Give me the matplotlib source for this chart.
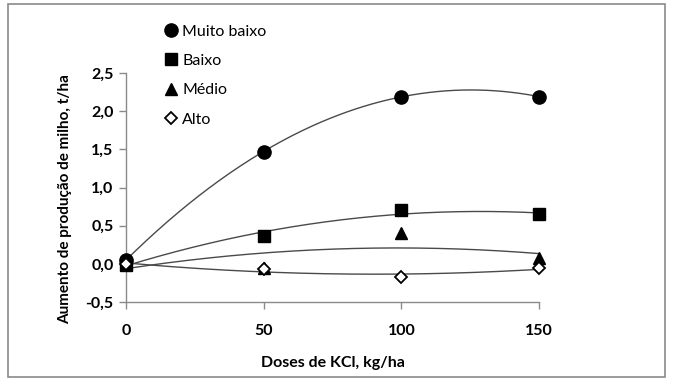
import numpy as np
import matplotlib
matplotlib.use("Agg")
import matplotlib.pyplot as plt
from matplotlib.patches import Rectangle
from matplotlib.lines import Line2D

plt.rcParams['font.family'] = ['Lato', 'DejaVu Sans']

# data
doses = [0, 50, 100, 150]
muito_baixo = [0.05, 1.47, 2.19, 2.19]
baixo = [-0.01, 0.37, 0.70, 0.65]
medio = [0.00, -0.05, 0.40, 0.07]
alto = [0.00, -0.07, -0.17, -0.06]

series_names = ["Muito baixo", "Baixo", "Médio", "Alto"]
y_ticks = [-0.5, 0.0, 0.5, 1.0, 1.5, 2.0, 2.5]
x_ticks = [0, 50, 100, 150]

W, H = 673, 382
fig = plt.figure(figsize=(W / 100, H / 100), dpi=100)

# outer frame
fig.patches.append(Rectangle((8 / W, 1 - 377 / H), 657 / W, 373 / H,
                             transform=fig.transFigure, fill=False,
                             edgecolor="#8a8a8a", lw=1.2))

ax = fig.add_axes([126 / W, 1 - 302 / H, (539 - 126) / W, (302 - 73) / H])

styles = [
    dict(marker="o", color="black", ms=9.5, mfc="black"),
    dict(marker="s", color="black", ms=9, mfc="black"),
    dict(marker="^", color="black", ms=8.5, mfc="black"),
    dict(marker="D", color="black", ms=6, mfc="white", mew=1.3),
]

xs = np.linspace(0, 150, 200)
for ys, st in zip([muito_baixo, baixo, medio, alto], styles):
    # Excel-style 2nd order polynomial trendline
    coef = np.polyfit(doses, ys, 2)
    ax.plot(xs, np.polyval(coef, xs), color="#4a4a4a", lw=1.0, zorder=2)
    ax.plot(doses, ys, linestyle="none", clip_on=False, zorder=3, **st)

ax.set_xlim(0, 150)
ax.set_ylim(-0.5, 2.5)
ax.set_xticks(x_ticks)
ax.set_xticklabels([str(v) for v in x_ticks], fontsize=11.5, fontweight="bold")
ax.set_yticks(y_ticks)
ax.set_yticklabels([f"{v:.1f}".replace(".", ",") for v in y_ticks],
                   fontsize=11.5, fontweight="bold")

for s in ["top", "right"]:
    ax.spines[s].set_visible(False)
for s in ["left", "bottom"]:
    ax.spines[s].set_color("#8a8a8a")
    ax.spines[s].set_linewidth(1.0)
ax.tick_params(axis="both", color="#8a8a8a", length=5, width=1.0)
ax.tick_params(axis="x", pad=11)
ax.tick_params(axis="y", pad=4)

ax.set_xlabel("Doses de KCl, kg/ha", fontsize=11.5, fontweight="bold", labelpad=13)
ax.set_ylabel("Aumento de produção de milho, t/ha", fontsize=11,
              fontweight="bold")
ax.yaxis.set_label_coords(-0.13, 0.45)

handles = [Line2D([], [], linestyle="none", **st) for st in styles]
fig.legend(handles, series_names, loc="upper left",
           bbox_to_anchor=(155 / W, 1 - 18 / H), frameon=False,
           fontsize=11.5, handletextpad=0.1, labelspacing=0.95,
           handlelength=1.2, borderaxespad=0)

fig.savefig("out.png", dpi=100)
